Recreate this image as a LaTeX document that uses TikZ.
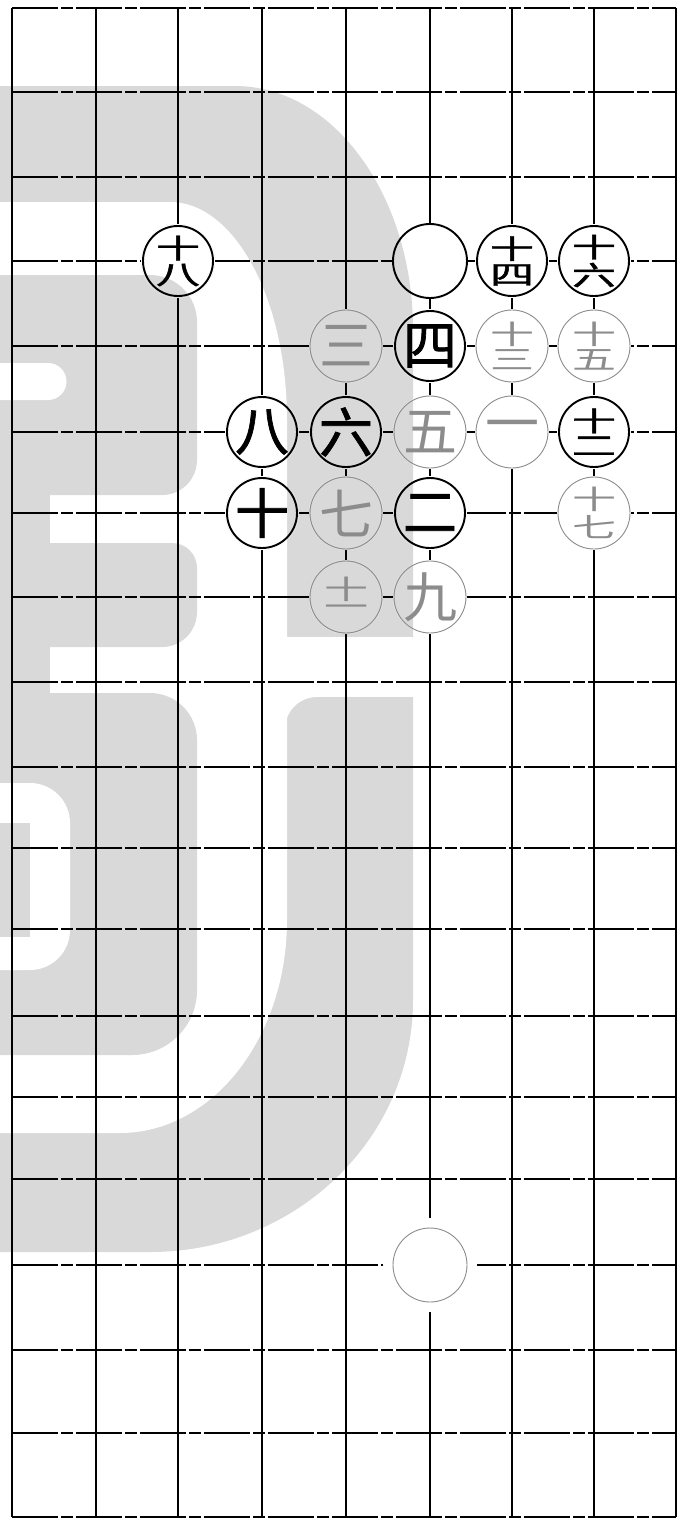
\documentclass[tikz,border=0pt]{standalone}
\usepackage{fontspec}
\newfontfamily\cjk{Noto Sans CJK SC}
\newfontfamily\cjkb[FakeBold=1.3]{Noto Sans CJK SC}
\definecolor{wmgray}{RGB}{217,217,217}
\definecolor{stgray}{RGB}{140,140,140}
\newcommand\wmark{%
  % outer ring
  \fill[wmgray] (0,86) -- (235,86) arc[start angle=-90,end angle=0,x radius=178,y radius=244]
     -- (413,1000) arc[start angle=0,end angle=90,x radius=263,y radius=252] -- (0,1252) -- cycle;
  \fill[white] (0,202) -- (170,202) arc[start angle=-90,end angle=0,x radius=117,y radius=218]
     -- (287,920) arc[start angle=0,end angle=90,x radius=167,y radius=213] -- (0,1133) -- cycle;
  \fill[white] (285,637) rectangle (416,697);
  \fill[white] (285,697) -- (317,697) arc[start angle=-90,end angle=-180,radius=32] -- cycle;
  % inner E-shape
  \fill[wmgray] (0,275) -- (150,275) arc[start angle=-90,end angle=0,radius=47]
     -- (197,460) arc[start angle=0,end angle=90,radius=35] -- (0,495) -- cycle;
  \fill[wmgray] (0,490) rectangle (50,550);
  \fill[wmgray] (0,543) -- (172,543) arc[start angle=-90,end angle=0,radius=25]
     -- (197,612) arc[start angle=0,end angle=90,radius=35] -- (0,647) -- cycle;
  \fill[wmgray] (0,640) rectangle (50,700);
  \fill[wmgray] (0,693) -- (150,693) arc[start angle=-90,end angle=0,radius=47]
     -- (197,990) arc[start angle=0,end angle=90,radius=65] -- (0,1055) -- cycle;
  % cut-outs
  \fill[white] (0,363) -- (48,363) arc[start angle=-90,end angle=90,radius=18.5] -- (0,400) -- cycle;
  \fill[white] (0,783) -- (30,783) arc[start angle=-90,end angle=0,radius=40]
     -- (70,930) arc[start angle=0,end angle=90,radius=40] -- (0,970) -- cycle;
  \fill[wmgray] (0,823) rectangle (30,937);
}
\newcommand\twoch[2]{\fontsize{40}{40}\selectfont\scalebox{1.1}[0.67]{\shortstack{#1\\[2pt]#2}}}
\tikzset{
  gridv/.style={line width=1.4pt},
  gridh/.style={line width=1.3pt, dash pattern=on 46pt off 3pt on 12pt off 3pt},
  bstone/.style={circle, draw=black, line width=1.9pt, minimum size=70pt, inner sep=-9pt,
     text=black, font=\cjkb\fontsize{54}{54}\selectfont},
  wstone/.style={circle, draw=stgray, line width=0.9pt, minimum size=72pt, inner sep=-9pt,
     text=stgray, font=\cjk\fontsize{54}{54}\selectfont},
}
\begin{document}
\begin{tikzpicture}[x=1pt,y=-1pt]
\useasboundingbox (0,0) rectangle (681,1520);
\fill[white] (0,0) rectangle (681,1520);
\wmark
\foreach \x [count=\i from 0] in {12,96,178,262,346,430,512,594,676} {
  \foreach \y [count=\j from 0] in {8,92,177,261,346,432,513,597,682,767,848,929,1016,1097,1179,1265,1350,1433,1517} {
    \coordinate (p\i-\j) at (\x,\y);
  }
}
\foreach \i in {0,...,8} \draw[gridv] (p\i-0) -- (p\i-18);
\foreach \j in {0,...,18} \draw[gridh] (p0-\j) -- (p8-\j);
% stone backgrounds (watermark shows through the stones)
\foreach \p in {p2-3,p5-3,p6-3,p7-3,p4-4,p5-4,p6-4,p7-4,p3-5,p4-5,p5-5,p6-5,p7-5,p3-6,p4-6,p5-6,p7-6,p4-7,p5-7} {
  \fill[white] (\p) circle (37);
  \begin{scope}
    \clip (\p) circle (37);
    \wmark
  \end{scope}
}
\fill[white] (p5-15) circle (47);
% stones
\node[bstone] (s18) at (p2-3) {\twoch{十}{八}};
\node[bstone, minimum size=74pt] (e1) at (p5-3) {};
\node[bstone] (s14) at (p6-3) {\twoch{十}{四}};
\node[bstone] (s16) at (p7-3) {\twoch{十}{六}};
\node[wstone] (s3) at (p4-4) {三};
\node[bstone] (s4) at (p5-4) {四};
\node[wstone] (s13) at (p6-4) {\twoch{十}{三}};
\node[wstone] (s15) at (p7-4) {\twoch{十}{五}};
\node[bstone] (s8) at (p3-5) {八};
\node[bstone] (s6) at (p4-5) {六};
\node[wstone] (s5) at (p5-5) {五};
\node[wstone] (s1) at (p6-5) {一};
\node[bstone] (s12) at (p7-5) {\twoch{十}{二}};
\node[bstone] (s10) at (p3-6) {十};
\node[wstone] (s7) at (p4-6) {七};
\node[bstone] (s2) at (p5-6) {二};
\node[wstone] (s17) at (p7-6) {\twoch{十}{七}};
\node[wstone] (s11) at (p4-7) {\twoch{十}{一}};
\node[wstone] (s9) at (p5-7) {九};
\node[wstone, minimum size=74pt] (e2) at (p5-15) {};
\end{tikzpicture}
\end{document}
